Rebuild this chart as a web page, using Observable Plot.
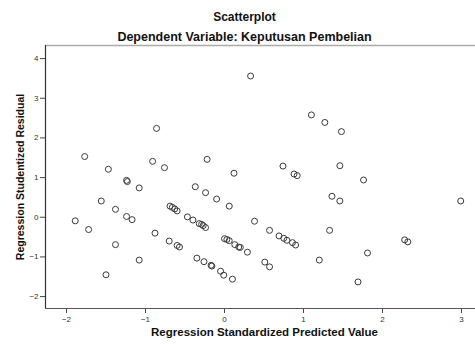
<!DOCTYPE html>
<html><head><meta charset="utf-8">
<script src="https://cdn.jsdelivr.net/npm/d3@7"></script>
<script src="https://cdn.jsdelivr.net/npm/@observablehq/plot@0.6"></script>
<style>body{margin:0;background:#fff} svg{display:block}</style>
</head><body><div id="chart"></div>
<script>
const predicted = [-1.77,-1.47,-0.86,-0.91,-0.76,0.33,1.10,-0.22,0.74,0.12,0.88,0.92,1.27,1.48,1.46,
  -1.24,-1.23,-1.08,-1.56,-1.38,-1.24,-1.17,-1.89,-1.72,-0.88,-1.38,-0.70,-0.60,-0.57,-1.08,-1.50,
  -0.69,-0.66,-0.63,-0.60,-0.37,-0.24,-0.10,0.06,-0.47,-0.40,-0.32,-0.29,-0.27,-0.24,0.38,0.57,
  0.69,0.75,0.79,0.86,0.90,0.00,0.03,0.06,0.13,0.18,0.20,0.29,-0.35,-0.26,-0.17,-0.16,-0.05,-0.01,
  0.10,0.51,0.57,1.20,1.76,1.36,1.46,2.99,1.33,2.28,2.32,1.81,1.69];
const residual = [1.53,1.21,2.24,1.41,1.25,3.56,2.58,1.46,1.29,1.11,1.09,1.05,2.39,2.16,1.30,
  0.93,0.90,0.74,0.41,0.20,0.02,-0.06,-0.09,-0.31,-0.40,-0.69,-0.60,-0.71,-0.75,-1.08,-1.45,
  0.28,0.25,0.21,0.16,0.77,0.62,0.46,0.28,0.01,-0.07,-0.16,-0.18,-0.21,-0.26,-0.10,-0.33,
  -0.47,-0.53,-0.58,-0.64,-0.70,-0.54,-0.56,-0.59,-0.69,-0.75,-0.76,-0.88,-1.03,-1.12,-1.21,-1.23,-1.36,-1.46,
  -1.56,-1.13,-1.25,-1.08,0.94,0.53,0.41,0.41,-0.33,-0.57,-0.62,-0.90,-1.63];
const xTicks = [-2,-1,0,1,2,3];
const yTicks = [-2,-1,0,1,2,3,4];
const xDomain = [-2.266, 3.177];
const yDomain = [-2.30, 4.33];
const titleText = "Scatterplot";
const subtitleText = "Dependent Variable: Keputusan Pembelian";
const xLabel = "Regression Standardized Predicted Value";
const yLabel = "Regression Studentized Residual";

const data = predicted.map((x, i) => ({x, y: residual[i]}));

const chart = Plot.plot({
  width: 475, height: 345,
  marginLeft: 45, marginRight: 0, marginTop: 45, marginBottom: 37,
  style: {fontFamily: "'Liberation Sans', Arial, sans-serif", background: "#fff", overflow: "visible"},
  x: {domain: xDomain},
  y: {domain: yDomain},
  marks: [
    Plot.ruleY([yDomain[1]], {stroke: "#aaa", strokeWidth: 1.5}),
    Plot.axisX({ticks: xTicks, tickFormat: "d", tickSize: 5, tickPadding: 3, fontSize: 8, label: null, stroke: "#444", fill: "#333"}),
    Plot.axisY({ticks: yTicks, tickFormat: "d", tickSize: 5, tickPadding: 2, fontSize: 8, label: null, stroke: "#444", fill: "#333"}),
    Plot.ruleX([xDomain[0]], {stroke: "#333", strokeWidth: 1.2}),
    Plot.ruleY([yDomain[0]], {stroke: "#555", strokeWidth: 1.2}),
    Plot.dot(data, {x: "x", y: "y", r: 3, stroke: "#3a3a3a", strokeWidth: 1, fill: "none"}),
    Plot.text([titleText], {frameAnchor: "top", dx: -16, dy: -33, fontWeight: "bold", fontSize: 12, fill: "#111"}),
    Plot.text([subtitleText], {frameAnchor: "top", dx: -16, dy: -13, fontWeight: "bold", fontSize: 12.5, fill: "#111"}),
    Plot.text([xLabel], {frameAnchor: "bottom", dx: 4, dy: 27, fontWeight: "bold", fontSize: 11.5, fill: "#111"}),
    Plot.text([yLabel], {frameAnchor: "left", dx: -25, rotate: -90, textAnchor: "middle", fontWeight: "bold", fontSize: 10.5, fill: "#111"})
  ]
});
document.getElementById("chart").appendChild(chart);
</script>
</body></html>
